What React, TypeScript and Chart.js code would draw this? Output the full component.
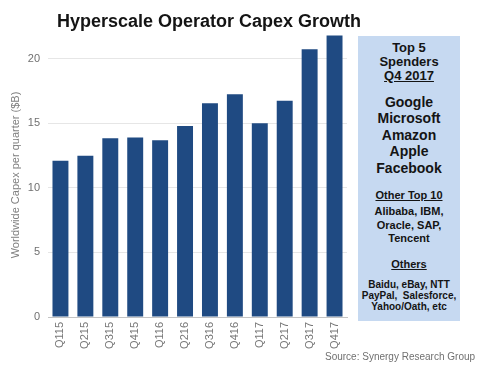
import React, { useEffect, useRef } from "react";
import { Chart, registerables } from "chart.js";

Chart.register(...registerables);

const categories = ["Q115", "Q215", "Q315", "Q415", "Q116", "Q216", "Q316", "Q416", "Q117", "Q217", "Q317", "Q417"];
const capex = [12.1, 12.5, 13.85, 13.9, 13.7, 14.8, 16.55, 17.25, 15.0, 16.75, 20.75, 21.8];
const yTicks = [0, 5, 10, 15, 20];

const titleText = "Hyperscale Operator Capex Growth";
const yAxisTitle = "Worldwide Capex per quarter ($B)";
const sourceText = "Source: Synergy Research Group";

type Line = { text: string; size: number; y: number; underline?: boolean };
const boxLines: Line[] = [
  { text: "Top 5", size: 13, y: 47 },
  { text: "Spenders", size: 13, y: 61 },
  { text: "Q4 2017", size: 13, y: 75, underline: true },
  { text: "Google", size: 14, y: 102 },
  { text: "Microsoft", size: 14, y: 118 },
  { text: "Amazon", size: 14, y: 135 },
  { text: "Apple", size: 14, y: 151 },
  { text: "Facebook", size: 14, y: 168 },
  { text: "Other Top 10", size: 11, y: 195, underline: true },
  { text: "Alibaba, IBM,", size: 11, y: 211 },
  { text: "Oracle, SAP,", size: 11, y: 225 },
  { text: "Tencent", size: 11, y: 238 },
  { text: "Others", size: 11, y: 264, underline: true },
  { text: "Baidu, eBay, NTT", size: 10, y: 285 },
  { text: "PayPal,  Salesforce,", size: 10, y: 296 },
  { text: "Yahoo/Oath, etc", size: 10, y: 307 },
];

const FONT = "'Liberation Sans', Arial, sans-serif";

export default function App() {
  const ref = useRef<HTMLCanvasElement | null>(null);

  useEffect(() => {
    if (!ref.current) return;
    const chart = new Chart(ref.current, {
      type: "bar",
      data: {
        labels: categories,
        datasets: [
          {
            data: capex,
            backgroundColor: "#1f4a82",
            barPercentage: 0.64,
            categoryPercentage: 1,
          },
        ],
      },
      options: {
        animation: false,
        responsive: false,
        maintainAspectRatio: false,
        layout: { padding: { top: 33, right: 137, left: 0, bottom: 0 } },
        plugins: { legend: { display: false }, tooltip: { enabled: false }, title: { display: false } },
        scales: {
          x: {
            grid: { display: false, drawTicks: false },
            border: { display: true, color: "#c4c4c4", width: 1 },
            ticks: {
              autoSkip: false,
              maxRotation: 90,
              minRotation: 90,
              padding: 5,
              color: "#777777",
              font: { family: FONT, size: 11 },
            },
            afterFit: (s: any) => {
              s.height = 59;
            },
          },
          y: {
            min: 0,
            max: 22,
            grid: { color: "#e6e6e6", drawTicks: false, lineWidth: 1 },
            border: { display: false },
            afterBuildTicks: (s: any) => {
              s.ticks = yTicks.map((v) => ({ value: v }));
            },
            ticks: {
              padding: 8,
              color: "#707070",
              font: { family: FONT, size: 11 },
            },
            title: {
              display: true,
              text: yAxisTitle,
              color: "#808080",
              font: { family: FONT, size: 11 },
              padding: { top: 9, bottom: 0 },
            },
            afterFit: (s: any) => {
              s.width = 48;
            },
          },
        },
      },
    });
    return () => chart.destroy();
  }, []);

  return (
    <div style={{ position: "fixed", left: 0, top: 0, width: 484, height: 376, background: "#ffffff", fontFamily: FONT }}>
      <canvas ref={ref} width={484} height={376} style={{ position: "absolute", left: 0, top: 0, width: 484, height: 376 }} />
      <div
        style={{
          position: "absolute",
          left: 57,
          top: 12,
          fontSize: 18,
          lineHeight: "18px",
          fontWeight: "bold",
          color: "#141414",
          whiteSpace: "nowrap",
        }}
      >
        {titleText}
      </div>
      <div
        style={{
          position: "absolute",
          left: 358,
          top: 36,
          width: 102,
          height: 285,
          background: "#c6d9f1",
        }}
      >
        {boxLines.map((l, i) => (
          <div
            key={i}
            style={{
              position: "absolute",
              left: 0,
              width: 102,
              top: l.y - 36 - l.size / 2,
              fontSize: l.size,
              lineHeight: `${l.size}px`,
              fontWeight: "bold",
              textAlign: "center",
              color: "#141414",
              whiteSpace: "pre",
              textDecoration: l.underline ? "underline" : "none",
            }}
          >
            {l.text}
          </div>
        ))}
      </div>
      <div
        style={{
          position: "absolute",
          left: 325,
          top: 352,
          fontSize: 10,
          lineHeight: "10px",
          color: "#707070",
          whiteSpace: "nowrap",
        }}
      >
        {sourceText}
      </div>
    </div>
  );
}
